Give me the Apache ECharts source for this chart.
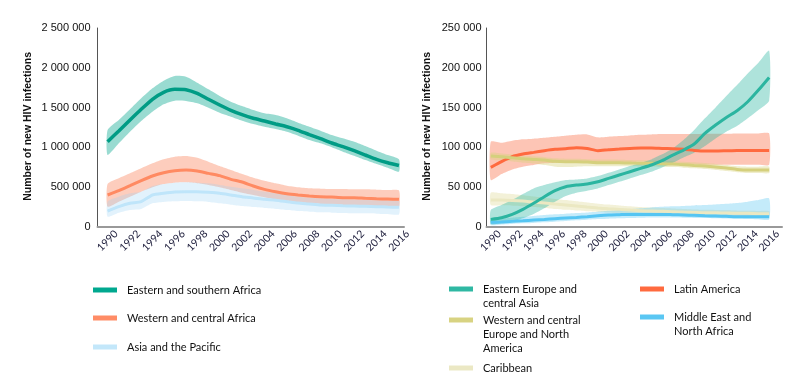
<!DOCTYPE html>
<html>
<head>
<meta charset="utf-8">
<script src="https://cdn.jsdelivr.net/npm/echarts@6/dist/echarts.min.js"></script>
<style>html,body{margin:0;padding:0;background:#fff}#c{width:812px;height:387px}</style>
</head>
<body>
<div id="c"></div>
<script>
const years = [1990,1991,1992,1993,1994,1995,1996,1997,1998,1999,2000,2001,2002,2003,2004,2005,2006,2007,2008,2009,2010,2011,2012,2013,2014,2015,2016];
const xTickLabels = [1990,1992,1994,1996,1998,2000,2002,2004,2006,2008,2010,2012,2014,2016];
const leftYTicks = [0,500000,1000000,1500000,2000000,2500000];
const rightYTicks = [0,50000,100000,150000,200000,250000];

// Left panel (numbers of new HIV infections)
const esaMid = [1070000,1204000,1342000,1477000,1603000,1691000,1729000,1724000,1678000,1603000,1531000,1464000,1409000,1364000,1330000,1292000,1258000,1213000,1158000,1107000,1053000,1007000,956000,902000,848000,805000,770000];
const esaHigh = [1216000,1342000,1477000,1615000,1741000,1837000,1896000,1887000,1812000,1728000,1644000,1573000,1518000,1468000,1426000,1405000,1364000,1308000,1258000,1208000,1154000,1112000,1069000,1015000,956000,902000,848000];
const esaLow = [902000,1049000,1195000,1330000,1447000,1540000,1585000,1581000,1552000,1497000,1434000,1384000,1334000,1292000,1258000,1229000,1195000,1145000,1091000,1049000,999000,944000,893000,839000,789000,742000,692000];

const wcaMid = [399000,453000,516000,579000,638000,679000,705000,713000,701000,671000,642000,596000,562000,512000,470000,440000,415000,399000,386000,377000,373000,365000,365000,357000,352000,348000,344000];
const wcaHigh = [537000,609000,671000,735000,797000,848000,881000,889000,868000,818000,763000,713000,663000,617000,579000,546000,516000,496000,483000,478000,474000,474000,470000,470000,466000,462000,457000];
const wcaLow = [252000,315000,377000,440000,496000,537000,554000,558000,546000,525000,496000,462000,428000,399000,370000,344000,327000,307000,294000,286000,281000,273000,269000,264000,260000,256000,252000];

const apMid = [197000,252000,294000,315000,399000,420000,436000,440000,440000,432000,420000,399000,377000,361000,344000,332000,315000,298000,286000,273000,269000,264000,260000,256000,252000,247000,244000];
const apHigh = [315000,377000,420000,440000,512000,537000,554000,558000,554000,546000,525000,503000,483000,462000,440000,420000,399000,377000,365000,357000,348000,344000,340000,336000,332000,327000,323000];
const apLow = [126000,176000,210000,223000,294000,311000,319000,323000,319000,311000,294000,277000,260000,247000,235000,223000,210000,197000,189000,181000,176000,172000,168000,168000,164000,159000,155000];

// Right panel
const eecaMid = [9200,11300,15500,21800,29400,37700,45300,50300,52400,53700,56600,60800,65000,69200,73400,77600,83000,90100,96400,104000,117400,127900,137500,145900,157200,171900,187800];
const eecaHigh = [21000,27300,33500,41100,48200,52400,55800,58700,59500,60800,63700,67900,72100,76300,80500,84700,91000,98500,109000,121600,136300,150100,164400,178200,192900,206300,221400];
const eecaLow = [3400,4200,6300,10500,15900,23100,31400,38600,42800,45300,48200,52400,56600,60800,65000,69200,74600,80500,87200,93100,101500,111100,119500,126600,136300,146800,158500];

const laMid = [74600,81800,88100,91400,93500,95600,97300,98100,99400,98500,95600,96900,97700,98500,99000,99000,98500,98100,97300,96000,95200,95200,95600,96000,96000,96000,96000];
const laHigh = [106900,105700,108200,109900,110700,111900,113200,114500,115700,116100,112400,113200,114000,114900,115700,116100,116600,116600,116600,116600,117000,117000,117000,117400,117400,117400,117400];
const laLow = [58700,66200,72100,75500,77600,79700,80500,81800,82600,81800,79700,80500,80900,81300,81800,81300,80500,79700,78800,78400,78000,78000,78000,78000,78000,78000,78000];

const wcenaMid = [88900,88100,86800,85500,84700,83900,82200,81800,81800,81300,80500,80500,80500,80100,79700,79700,79200,78800,78000,77100,76300,75100,73800,72100,71300,71300,71300];
const wcenaHigh = [93000,92200,91000,89500,88500,87500,86000,85500,85500,85000,84500,84500,84300,84000,83500,83300,83000,82500,81800,81000,80000,79000,77500,76000,75500,75500,75500];
const wcenaLow = [84500,83500,82000,80500,79500,77500,75500,75000,75500,76000,76000,76000,76000,76000,75800,75800,75500,75000,74300,73500,72500,71300,70000,68500,67500,67500,67500];

const carMid = [33500,33500,33100,32300,31000,29800,28500,27300,26000,24700,23500,22600,21800,21000,20100,19700,19300,18900,18400,18000,17600,17600,17200,16800,16800,16400,16400];
const carHigh = [42800,42000,41000,39500,38000,36500,35000,33500,32000,30500,29000,27800,26800,25800,24800,24000,23400,22800,22200,21600,21200,21000,20600,20200,20000,19800,19700];
const carLow = [27300,27000,26500,25800,24800,23600,22300,21200,20300,19400,18600,18000,17400,16800,16200,15800,15400,15000,14700,14400,14100,14000,13800,13600,13500,13400,13400];

const menaMid = [5500,5900,6700,7500,8400,9200,10100,10900,11700,12600,13800,14700,15100,15500,15500,15500,15500,15100,14700,14300,13800,13400,13000,12600,12600,12600,12600];
const menaHigh = [9200,10300,11400,12500,13600,14700,15600,16400,17200,18000,18900,20000,21100,22200,23200,24300,25000,25600,26200,26800,27300,28000,28800,29800,31500,33500,35600];
const menaLow = [2100,2800,3500,4200,4800,5500,6300,7100,8000,8800,9600,10100,10600,11000,11400,11700,11700,11500,11300,11100,10900,10600,10300,10000,9700,9400,9200];

const leftNames = ['Eastern and southern Africa','Western and central Africa','Asia and the Pacific'];
const rightNames = ['Eastern Europe and\ncentral Asia','Western and central\nEurope and North\nAmerica','Caribbean','Latin America','Middle East and\nNorth Africa'];

// ---- build ----
const pair = arr => arr.map((v,i)=>[years[i], v]);

function band(idx, hi, lo, color, z) {
  const rows = years.map((y,i)=>[y, lo[i], hi[i]]);
  return {
    type:'custom', xAxisIndex:idx, yAxisIndex:idx, data:rows, silent:true, z:z,
    encode:{x:0, y:[1,2]},
    renderItem:function(params, api){
      if (params.dataIndex !== 0) return null;
      const top = rows.map(r => api.coord([r[0], r[2]]));
      const bot = rows.map(r => api.coord([r[0], r[1]])).reverse();
      return {type:'polygon', shape:{points:top.concat(bot), smooth:0.2},
        style:{fill:color, stroke:null}};
    }
  };
}
function line(idx, mid, color, w, z) {
  return {type:'line', xAxisIndex:idx, yAxisIndex:idx, data:pair(mid), symbol:'none', smooth:0.2,
    lineStyle:{color:color, width:w}, z:z};
}

const fmtSpace = v => String(v).replace(/\B(?=(\d{3})+(?!\d))/g, ' ');

function xAx(idx, min, max) {
  return {type:'value', gridIndex:idx, min:min, max:max,
    axisLine:{show:true, lineStyle:{color:'#999', width:2}},
    axisTick:{show:false}, splitLine:{show:false},
    axisLabel:{customValues:xTickLabels, rotate:45, margin:14, align:'center', verticalAlign:'middle',
      formatter:v=>String(v), fontFamily:'Lato', fontSize:10.5, color:'#1c1c3a'}};
}
function yAx(idx, max, interval, ticks, gap, margin) {
  return {type:'value', gridIndex:idx, min:0, max:max, interval:interval,
    axisLine:{show:true, lineStyle:{color:'#555', width:1}},
    axisTick:{show:false}, splitLine:{show:false},
    axisLabel:{margin:margin, formatter:v=>fmtSpace(v), customValues:ticks,
      fontFamily:'Liberation Sans', fontSize:11, color:'#111', padding:[4,0,0,0]},
    name:'Number of new HIV infections', nameLocation:'middle', nameRotate:90, nameGap:gap,
    nameTextStyle:{fontFamily:'Liberation Sans', fontWeight:'bold', fontSize:10.5, color:'#111', padding:[0,0,0,2]}};
}

const series = [
  band(0,esaHigh,esaLow,'rgba(0,165,140,0.40)',1),
  band(0,wcaHigh,wcaLow,'rgba(250,130,90,0.40)',2),
  band(0,apHigh,apLow,'rgba(150,210,245,0.28)',3),
  line(0,esaMid,'#009c85',3.5,10), line(0,wcaMid,'#ff8a62',3,10), line(0,apMid,'#bfe5fa',3,10),
  band(1,laHigh,laLow,'rgba(250,110,70,0.40)',1),
  band(1,wcenaHigh,wcenaLow,'rgba(214,210,126,0.40)',2),
  band(1,carHigh,carLow,'rgba(235,232,190,0.60)',2),
  band(1,menaHigh,menaLow,'rgba(85,198,242,0.35)',2),
  band(1,eecaHigh,eecaLow,'rgba(43,181,160,0.38)',3),
  line(1,laMid,'#ff6a3f',3,10), line(1,wcenaMid,'#d5d07d',3,10), line(1,carMid,'#ebe8c2',3,10),
  line(1,menaMid,'#55c5f2',3,10), line(1,eecaMid,'#2bb5a0',3,11)
];

const legFont = {fontFamily:'Lato', fontSize:11, fill:'#111', lineHeight:14};
function legItem(x, y, color, text, tx) {
  return [
    {type:'rect', shape:{x:x, y:y-2.5, width:24, height:5}, style:{fill:color}},
    {type:'text', x:tx, y:y-7, style:Object.assign({text:text, verticalAlign:'top'}, legFont)}
  ];
}
const graphic = [].concat(
  legItem(93, 290, '#00a88f', leftNames[0], 127),
  legItem(93, 318, '#ff8c66', leftNames[1], 127),
  legItem(93, 347, '#c3e7fa', leftNames[2], 127),
  legItem(449, 289, '#2fb8a3', rightNames[0], 483),
  legItem(449, 320, '#d8d382', rightNames[1], 483),
  legItem(449, 368, '#ebe8c4', rightNames[2], 483),
  legItem(640, 289, '#ff6a3f', rightNames[3], 674),
  legItem(640, 317, '#5ac7f3', rightNames[4], 674)
);

const chart = echarts.init(document.getElementById('c'), null, {renderer:'canvas'});
chart.setOption({
  animation:false,
  grid:[{left:97.5, top:28, width:306.5, height:198.7},
        {left:486.5, top:28, width:295.5, height:198.7}],
  xAxis:[xAx(0, 1989.1, 2016.45), xAx(1, 1989.6, 2017.2)],
  yAxis:[yAx(0, 2500000, 500000, leftYTicks, 64, 7), yAx(1, 250000, 50000, rightYTicks, 54, 5)],
  series:series,
  graphic:graphic
});
</script>
</body>
</html>
